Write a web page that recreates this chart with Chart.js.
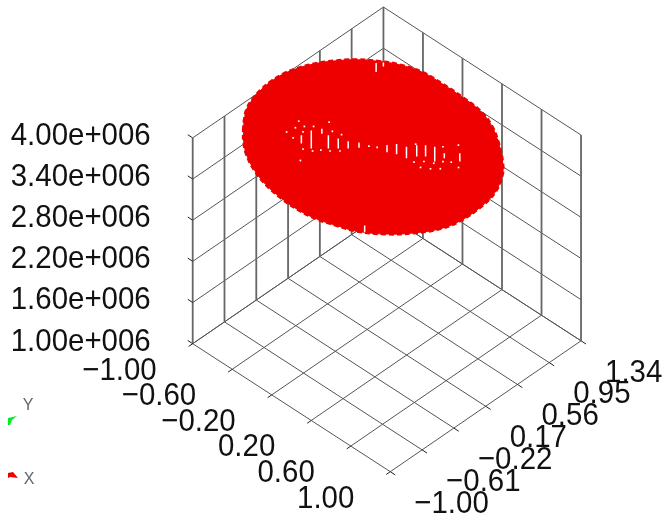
<!DOCTYPE html>
<html>
<head>
<meta charset="utf-8">
<style>html,body{margin:0;padding:0;background:#fff}canvas{display:block}</style>
<script src="https://cdn.jsdelivr.net/npm/chart.js@4"></script>
</head>
<body>
<canvas id="c" width="666" height="519"></canvas>
<script>
// tick values and their labels
const xTicks = [-1, -0.6, -0.2, 0.2, 0.6, 1];
const xTickLabels = ["\u22121.00", "\u22120.60", "\u22120.20", "0.20", "0.60", "1.00"];
const yTicks = [-1, -0.61, -0.22, 0.17, 0.56, 0.95, 1.34];
const yTickLabels = ["\u22121.00", "\u22120.61", "\u22120.22", "0.17", "0.56", "0.95", "1.34"];
const zTicks = [1e6, 1.6e6, 2.2e6, 2.8e6, 3.4e6, 4e6];
const zTickLabels = ["1.00e+006", "1.60e+006", "2.20e+006", "2.80e+006", "3.40e+006", "4.00e+006"];

// outline of the red surface
const surfaceZ = 3.99e6;
const rimX = [-.799,-.880,-.943,-.987,-1.014,-1.025,-1.020,-.993,-.936,-.856,-.746,-.613,-.486,-.308,-.118,.084,.283,.455,.630,.814,.896,.983,1.018,1.018,.978,.875,.731,.554,.409,.256,.079,-.094,-.271,-.443,-.595,-.710];
const rimY = [-.622,-.511,-.406,-.280,-.147,-.012,.123,.252,.406,.551,.700,.822,.910,.978,.990,.987,.968,.901,.778,.607,.496,.302,.077,-.145,-.339,-.538,-.726,-.876,-.942,-1.000,-1.027,-1.019,-.987,-.920,-.829,-.726];

// short gaps in the surface: pairs of end points
const gapX1 = [-.459,-.445,-.403,-.319,-.242,-.171,-.105,.061,.103,.175,.216,.262,.322,.422,.502,-.618,-.585,.555];
const gapY1 = [-.322,-.218,-.140,-.161,-.133,-.098,-.045,.098,.164,.198,.274,.327,.367,.364,.456,.788,.837,-.775];
const gapX2 = [-.397,-.308,-.365,-.219,-.168,-.116,-.065,.116,.181,.262,.303,.349,.434,.459,.565,-.551,-.555,.605];
const gapY2 = [-.398,-.384,-.185,-.282,-.223,-.164,-.093,.031,.070,.093,.169,.222,.231,.318,.380,.706,.800,-.836];
// single holes in the surface
const holeX = [-.026,.027,-.580,-.415,-.463,-.511,-.548,-.561,-.476,-.328,-.255,-.482,-.346,-.282,-.246,-.191,-.139,-.273,.203,.331,.378,.442,.365,.477,.518,.525,.433,.603,.467,.405];
const holeY = [-.019,.018,-.208,-.036,-.168,-.223,-.288,-.380,-.282,-.101,-.077,-.395,-.439,-.400,-.342,-.296,-.237,-.560,.277,.102,.167,.210,.416,.280,.198,.323,.523,.318,.139,.092];

const FONT = '"Liberation Sans", Arial, sans-serif';
const zFactor = 209 / 3e6;
function project(x, y, z) {
  return {
    x: 191 + 100 * (x + 1) + 82.5 * (y + 1),
    y: 345 + 65 * (x + 1) - 56.8 * (y + 1) - zFactor * (z - 1e6)
  };
}
const GAP = { x: null, y: null };
const xMin = xTicks[0], xMax = xTicks[xTicks.length - 1];
const yMin = yTicks[0], yMax = yTicks[yTicks.length - 1];
const zMin = zTicks[0], zMax = zTicks[zTicks.length - 1];
const tickLen = 0.05;

function seg(a, b) { return [project(a[0], a[1], a[2]), project(b[0], b[1], b[2]), GAP]; }

const slanted = [];
const upright = [];
const tickMarks = [];
xTicks.forEach(x => {
  slanted.push(...seg([x, yMin, zMin], [x, yMax, zMin]));
  upright.push(...seg([x, yMax, zMin], [x, yMax, zMax]));
  tickMarks.push(...seg([x, yMin, zMin], [x, yMin - tickLen, zMin]));
});
yTicks.forEach(y => {
  slanted.push(...seg([xMin, y, zMin], [xMax, y, zMin]));
  upright.push(...seg([xMin, y, zMin], [xMin, y, zMax]));
  tickMarks.push(...seg([xMax, y, zMin], [xMax + tickLen, y, zMin]));
});
zTicks.forEach(z => {
  slanted.push(...seg([xMin, yMin, z], [xMin, yMax, z]));
  slanted.push(...seg([xMin, yMax, z], [xMax, yMax, z]));
  tickMarks.push(...seg([xMin, yMin, z], [xMin - tickLen, yMin, z]));
});

const rim = rimX.map((x, i) => project(x, rimY[i], surfaceZ));
rim.push(rim[0]);
const gaps = [];
gapX1.forEach((x, i) => {
  gaps.push(...seg([x, gapY1[i], surfaceZ], [gapX2[i], gapY2[i], surfaceZ]));
});
const holes = holeX.map((x, i) => project(x, holeY[i], surfaceZ));

const labelPlugin = {
  id: 'axisLabels',
  afterDatasetsDraw(chart) {
    const c = chart.ctx, sx = chart.scales.x, sy = chart.scales.y;
    const at = (x, y, z) => {
      const p = project(x, y, z);
      return [sx.getPixelForValue(p.x), sy.getPixelForValue(p.y)];
    };
    const label = (text, px, py) => {
      c.save();
      c.translate(px, py);
      c.scale(0.92, 1);
      c.fillText(text, 0, 0);
      c.restore();
    };
    c.save();
    c.fillStyle = '#111';
    c.font = '32px ' + FONT;
    c.textBaseline = 'middle';
    c.textAlign = 'right';
    zTicks.forEach((z, i) => {
      const [u, v] = at(xMin, yMin, z);
      label(zTickLabels[i], u - 42, v - 2);
    });
    xTicks.forEach((x, i) => {
      const [u, v] = at(x, yMin, zMin);
      label(xTickLabels[i], u - 36, v + 27);
    });
    c.textAlign = 'left';
    yTicks.forEach((y, i) => {
      const [u, v] = at(xMax, y, zMin);
      label(yTickLabels[i], u + 24, v + 32);
    });
    // orientation key
    c.font = '16px ' + FONT;
    c.fillStyle = '#666';
    c.textAlign = 'center';
    c.fillText('Y', 28, 406);
    c.fillText('X', 29, 480);
    c.fillStyle = '#00ee22';
    c.beginPath();
    c.moveTo(8, 418); c.lineTo(17, 416); c.lineTo(12, 420); c.lineTo(10, 425); c.lineTo(8, 425);
    c.closePath(); c.fill();
    c.fillStyle = '#ee0000';
    c.beginPath();
    c.moveTo(8, 473); c.lineTo(13, 472); c.lineTo(18, 478); c.lineTo(10, 477); c.lineTo(8, 478);
    c.closePath(); c.fill();
    c.restore();
  }
};

const line = (data, color, width, order) => ({
  data, order, showLine: true, borderColor: color, borderWidth: width,
  pointRadius: 0, fill: false, spanGaps: false, tension: 0
});

new Chart(document.getElementById('c'), {
  type: 'scatter',
  data: {
    datasets: [
      line(slanted, '#555555', 1, 6),
      line(upright, '#666666', 1.8, 5),
      line(tickMarks, '#222222', 1, 4),
      Object.assign(line(rim, '#ee0000', 1, 3), { fill: 'shape', backgroundColor: '#ee0000', tension: 0.4 }),
      Object.assign(line(rim, '#ee0000', 3, 3), { borderDash: [5, 3], tension: 0.4 }),
      line(gaps, '#ffffff', 1.5, 2),
      { data: holes, order: 1, showLine: false, pointStyle: 'rect', pointRadius: 1.2,
        pointBackgroundColor: '#ffffff', pointBorderWidth: 0 }
    ]
  },
  options: {
    responsive: false,
    animation: false,
    events: [],
    layout: { padding: 0 },
    plugins: { legend: { display: false }, tooltip: { enabled: false } },
    scales: {
      x: { type: 'linear', display: false, min: 0, max: 666 },
      y: { type: 'linear', display: false, min: 0, max: 519, reverse: true }
    }
  },
  plugins: [labelPlugin]
});
</script>
</body>
</html>
